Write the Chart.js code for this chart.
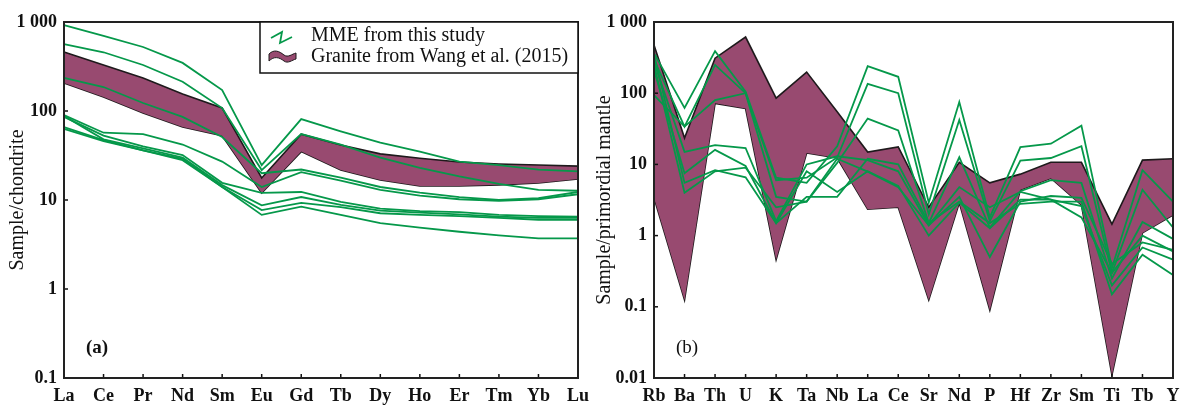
<!DOCTYPE html>
<html><head><meta charset="utf-8">
<script src="https://cdn.jsdelivr.net/npm/chart.js@4.4.1/dist/chart.umd.min.js"></script>
<style>
html,body{margin:0;padding:0;background:#fff;}
#wrap{position:relative;width:1182px;height:407px;}
canvas{position:absolute;top:0;}
#ca{left:0;} #cb{left:590px;}
</style></head>
<body><div id="wrap"><canvas id="ca" width="590" height="407"></canvas><canvas id="cb" width="592" height="407"></canvas></div>
<script>
// ---------- Panel (a): chondrite-normalised REE ----------
const reeCategories = ['La','Ce','Pr','Nd','Sm','Eu','Gd','Tb','Dy','Ho','Er','Tm','Yb','Lu'];
const reeTickValues = [0.1, 1, 10, 100, 1000];
const reeTickLabels = ['0.1', '1', '10', '100', '1 000'];
const reeGraniteUpper = [460, 329, 235, 155, 108, 17.7, 55, 41.5, 33, 29.5, 26.7, 25.4, 24.7, 24];
const reeGraniteLower = [207, 144, 95, 66, 52.6, 12, 35, 21.7, 16.8, 14.4, 14.4, 14.8, 15.5, 17.2];
const reeMME1 = [925, 700, 524, 347, 172, 24.6, 81, 59, 44, 35, 27, 24.6, 22, 21];
const reeMME2 = [565, 457, 329, 213, 108, 21.7, 55, 42, 30, 23, 18.4, 15.2, 13, 12.7];
const reeMME3 = [235, 186, 123, 86, 51, 20, 22, 17.8, 14, 12.1, 10.8, 10, 10.5, 12.3];
const reeMME4 = [90, 57, 55, 42, 27, 14, 20.6, 16.5, 13, 11.2, 10.2, 9.8, 10.2, 11.6];
const reeMME5 = [86, 53, 40, 32, 15.6, 12, 12.3, 9.5, 8.0, 7.5, 7.3, 6.8, 6.6, 6.5];
const reeMME6 = [88, 48, 38, 30, 14.7, 8.7, 10.8, 8.8, 7.6, 7.2, 6.9, 6.5, 6.3, 6.3];
const reeMME7 = [66, 47, 36, 29, 14, 7.7, 9.3, 8.3, 7.1, 6.8, 6.6, 6.3, 6.0, 6.0];
const reeMME8 = [63, 46, 36, 28, 14, 6.8, 8.4, 6.8, 5.5, 4.9, 4.4, 4.0, 3.7, 3.7];

// ---------- Panel (b): primitive-mantle-normalised spider ----------
const pmCategories = ['Rb','Ba','Th','U','K','Ta','Nb','La','Ce','Sr','Nd','P','Hf','Zr','Sm','Ti','Tb','Y'];
const pmTickValues = [0.01, 0.1, 1, 10, 100, 1000];
const pmTickLabels = ['0.01', '0.1', '1', '10', '100', '1 000'];
const pmGraniteUpper = [475, 23.4, 310, 615, 85, 198, 55, 14.9, 17.6, 2.5, 10.7, 5.5, 7.3, 10.7, 10.7, 1.45, 11.5, 12];
const pmGraniteLower = [3.4, 0.125, 72, 61, 0.46, 14.5, 12.3, 2.35, 2.5, 0.125, 2.9, 0.09, 4.4, 6.4, 2.7, 0.011, 1.09, 1.95];
const pmMME1 = [365, 62, 390, 105, 6.5, 5.5, 18, 240, 170, 2.9, 75, 1.8, 17.5, 19.5, 35, 0.35, 8.3, 3.0];
const pmMME2 = [295, 34, 250, 100, 6.0, 6.5, 12.5, 135, 100, 2.0, 42, 1.6, 11.3, 12.3, 18, 0.3, 4.4, 1.3];
const pmMME3 = [94, 34, 80, 100, 3.5, 3.0, 10.5, 44, 30, 1.5, 12.6, 1.3, 4.2, 6.0, 5.5, 0.25, 1.55, 0.9];
const pmMME4 = [275, 15, 18.6, 17, 1.6, 10, 13, 11.5, 8, 1.4, 3.5, 0.5, 3.0, 3.6, 3.4, 0.4, 0.8, 0.63];
const pmMME5 = [212, 7.5, 16, 9.5, 1.5, 8, 4.1, 8, 5, 1.0, 2.9, 1.27, 3.2, 3.2, 2.6, 0.2, 0.68, 0.46];
const pmMME6 = [350, 5.5, 8.3, 6.6, 1.5, 3.5, 3.5, 12, 10, 1.5, 3.0, 1.5, 2.8, 3.0, 3.0, 0.15, 0.54, 0.28];
const pmMME7 = [250, 4, 8, 9, 2.5, 3, 12, 7.9, 4.8, 1.4, 4.8, 2.5, 4.1, 3.2, 1.8, 0.3, 1.0, 0.6];

const legendLabels = ['MME from this study', 'Granite from Wang et al. (2015)'];

const GREEN = '#05984a';
const PURPLE = '#984a70';
const EDGE = '#1e1a1c';
const SERIF = '"Liberation Serif", "DejaVu Serif", serif';

function bandDatasets(up, lo){
  return [
    {data: up, borderColor: EDGE, borderWidth: 1.6, backgroundColor: PURPLE, fill: '+1', pointRadius: 0, tension: 0, order: 2},
    {data: lo, borderColor: EDGE, borderWidth: 1.6, backgroundColor: PURPLE, fill: false, pointRadius: 0, tension: 0, order: 2}
  ];
}
function greenDatasets(list){
  return list.map(d => ({data: d, borderColor: GREEN, borderWidth: 1.8, fill: false, pointRadius: 0, tension: 0, order: 1}));
}

const framePlugin = {
  id: 'frame',
  afterDatasetsDraw(chart, args, opts){
    const {ctx, chartArea: a, scales} = chart;
    ctx.save();
    ctx.strokeStyle = '#111'; ctx.lineWidth = 1.5;
    const xs = scales.x;
    xs.ticks.forEach((t, i) => {
      const px = xs.getPixelForTick(i);
      ctx.beginPath(); ctx.moveTo(px, a.bottom); ctx.lineTo(px, a.bottom - 4); ctx.stroke();
    });
    const ys = scales.y;
    ys.ticks.forEach((t, i) => {
      const py = ys.getPixelForTick(i);
      ctx.beginPath(); ctx.moveTo(a.left, py); ctx.lineTo(a.left + 4, py); ctx.stroke();
    });
    ctx.strokeStyle = '#222'; ctx.lineWidth = 2;
    ctx.strokeRect(a.left, a.top, a.right - a.left, a.bottom - a.top);
    ctx.fillStyle = '#111';
    ctx.font = (opts.bold ? 'bold ' : '') + '19px ' + SERIF;
    ctx.textBaseline = 'middle'; ctx.textAlign = 'left';
    ctx.fillText(opts.label, a.left + 22, 348);
    if (opts.legend) {
      const lx = 260, ly = a.top, lw = a.right - 260, lh = 51;
      ctx.fillStyle = '#fff';
      ctx.fillRect(lx, ly, lw, lh);
      ctx.strokeStyle = '#111'; ctx.lineWidth = 1.5;
      ctx.strokeRect(lx, ly, lw, lh);
      ctx.strokeStyle = GREEN; ctx.lineWidth = 1.8;
      ctx.beginPath(); ctx.moveTo(271, 38); ctx.lineTo(282, 32); ctx.lineTo(280, 43); ctx.lineTo(292, 37); ctx.stroke();
      ctx.beginPath();
      ctx.moveTo(269, 54);
      ctx.bezierCurveTo(274, 49, 279, 51, 284, 55);
      ctx.bezierCurveTo(288, 58, 292, 54, 296, 53);
      ctx.lineTo(296, 59);
      ctx.bezierCurveTo(292, 60, 288, 64, 284, 61);
      ctx.bezierCurveTo(279, 57, 274, 56, 269, 61);
      ctx.closePath();
      ctx.fillStyle = PURPLE; ctx.fill();
      ctx.strokeStyle = EDGE; ctx.lineWidth = 1; ctx.stroke();
      ctx.fillStyle = '#111';
      ctx.font = '20px ' + SERIF;
      ctx.textBaseline = 'alphabetic';
      ctx.fillText(legendLabels[0], 311, 41);
      ctx.fillText(legendLabels[1], 311, 62);
    }
    ctx.restore();
  }
};

function makeChart(id, cats, datasets, tickVals, tickLabs, ymin, ymax, yTitle, padRight, titlePad, label, bold, legend){
  return new Chart(document.getElementById(id), {
    type: 'line',
    data: {labels: cats, datasets: datasets},
    options: {
      responsive: false, animation: false, devicePixelRatio: 1,
      layout: {padding: {left: 0, right: padRight, top: 22, bottom: 0}},
      plugins: {legend: {display: false}, tooltip: {enabled: false}, frame: {label: label, bold: bold, legend: legend}},
      scales: {
        x: {
          type: 'category', offset: false,
          grid: {display: false, drawTicks: false},
          border: {display: false},
          ticks: {color: '#111', font: {family: SERIF, size: 18, weight: 'bold'}, padding: 8, maxRotation: 0, autoSkip: false},
          afterFit(s){ s.height = 29; s.paddingLeft = 0; s.paddingRight = 0; }
        },
        y: {
          type: 'logarithmic', min: ymin, max: ymax,
          grid: {display: false, drawTicks: false},
          border: {display: false},
          afterBuildTicks(s){ s.ticks = tickVals.map(v => ({value: v})); },
          ticks: {color: '#111', font: {family: SERIF, size: 18, weight: 'bold'}, padding: 7,
            callback(v){ const i = tickVals.indexOf(v); return i >= 0 ? tickLabs[i] : ''; }},
          title: {display: true, text: yTitle, color: '#111', font: {family: SERIF, size: 20}, padding: {top: titlePad, bottom: 0}},
          afterFit(s){ s.width = 64; s.paddingTop = 0; s.paddingBottom = 0; }
        }
      }
    },
    plugins: [framePlugin]
  });
}

makeChart('ca', reeCategories,
  bandDatasets(reeGraniteUpper, reeGraniteLower).concat(greenDatasets([reeMME1, reeMME2, reeMME3, reeMME4, reeMME5, reeMME6, reeMME7, reeMME8])),
  reeTickValues, reeTickLabels, 0.1, 1000, 'Sample/chondrite', 12, 6, '(a)', true, true);

makeChart('cb', pmCategories,
  bandDatasets(pmGraniteUpper, pmGraniteLower).concat(greenDatasets([pmMME1, pmMME2, pmMME3, pmMME4, pmMME5, pmMME6, pmMME7])),
  pmTickValues, pmTickLabels, 0.01, 1000, 'Sample/primordial mantle', 9, 3, '(b)', false, false);
</script>
</body></html>
